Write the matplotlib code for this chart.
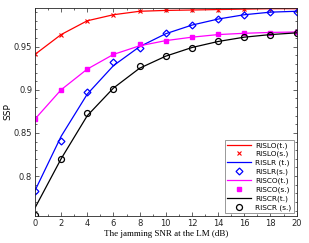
import matplotlib
matplotlib.use("Agg")
import matplotlib.pyplot as plt
from matplotlib.ticker import MultipleLocator

snr = [0, 2, 4, 6, 8, 10, 12, 14, 16, 18, 20]

rislo_t = [0.941, 0.964, 0.980, 0.987, 0.991, 0.992, 0.9925, 0.993, 0.9935, 0.994, 0.994]
rislo_s = [0.941, 0.964, 0.980, 0.987, 0.991, 0.992, 0.9925, 0.993, 0.9935, 0.994, 0.994]
rislr_t = [0.783, 0.846, 0.895, 0.928, 0.950, 0.965, 0.975, 0.982, 0.987, 0.990, 0.991]
rislr_s = [0.783, 0.841, 0.897, 0.932, 0.949, 0.9655, 0.975, 0.9825, 0.987, 0.990, 0.9906]
risco_t = [0.866, 0.900, 0.924, 0.941, 0.951, 0.957, 0.961, 0.964, 0.9655, 0.9665, 0.967]
risco_s = [0.866, 0.900, 0.924, 0.942, 0.953, 0.9566, 0.9616, 0.9644, 0.9655, 0.9662, 0.967]
riscr_t = [0.763, 0.820, 0.870, 0.902, 0.925, 0.939, 0.949, 0.956, 0.961, 0.964, 0.966]
riscr_s = [0.755, 0.820, 0.873, 0.901, 0.928, 0.939, 0.949, 0.957, 0.9616, 0.964, 0.966]

fig = plt.figure(figsize=(3.09, 2.43), dpi=100)
ax = fig.add_axes([0.113, 0.112, 0.847, 0.854])

ax.plot(snr, rislo_t, color="red", lw=0.9, label="RISLO(t.)")
ax.plot(snr, rislo_s, ls="none", marker="x", color="red", ms=3.5, mew=0.8, label="RISLO(s.)")
ax.plot(snr, rislr_t, color="blue", lw=0.9, label="RISLR (t.)")
ax.plot(snr, rislr_s, ls="none", marker="D", mfc="none", mec="blue", ms=3.5, mew=0.9, label="RISLR(s.)")
ax.plot(snr, risco_t, color="magenta", lw=0.9, label="RISCO(t.)")
ax.plot(snr, risco_s, ls="none", marker="s", color="magenta", ms=2.8, label="RISCO(s.)")
ax.plot(snr, riscr_t, color="black", lw=0.9, label="RISCR(t.)")
ax.plot(snr, riscr_s, ls="none", marker="o", mfc="none", mec="black", ms=4.3, mew=0.9, label="RISCR (s.)")

ax.set_xlim(0, 20)
ax.set_ylim(0.754, 0.9945)
ax.set_xticks(snr)
ax.set_yticks([0.8, 0.85, 0.9, 0.95])
ax.set_yticklabels(["0.8", "0.85", "0.9", "0.95"])
ax.xaxis.set_minor_locator(MultipleLocator(1))
ax.yaxis.set_minor_locator(MultipleLocator(0.01))
ax.tick_params(which="both", direction="in", top=True, right=True, labelsize=6, colors="#262626", width=0.5)
ax.tick_params(which="major", length=3, pad=2)
ax.tick_params(which="minor", length=1.5)
for s in ax.spines.values():
    s.set_linewidth(0.6)
    s.set_color("#262626")

ax.set_xlabel("The jamming SNR at the LM (dB)", family="Liberation Serif", fontsize=6.5, labelpad=2)
ax.set_ylabel("SSP", fontsize=6.5)
ax.yaxis.set_label_coords(-0.085, 0.5)

leg = ax.legend(loc="lower right", fontsize=5.3, handlelength=3.2, labelspacing=0.3,
                borderpad=0.3, handletextpad=0.6, fancybox=False, framealpha=1,
                edgecolor="#888888", borderaxespad=0.4)
leg.get_frame().set_linewidth(0.6)

fig.savefig("out.png", dpi=100)
